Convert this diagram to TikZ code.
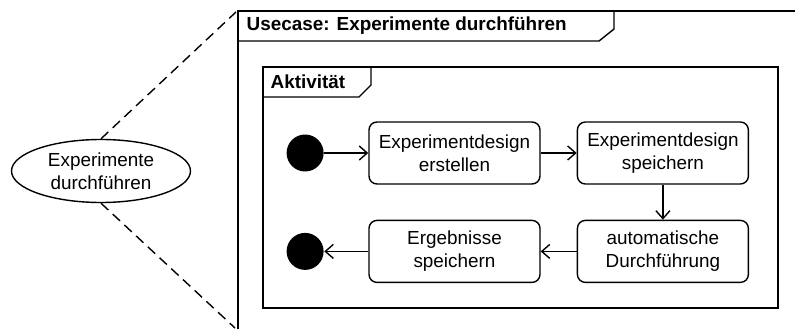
\documentclass[tikz,border=0pt]{standalone}
\usepackage{fontspec}
\setmainfont{Liberation Sans}
\usetikzlibrary{positioning,shapes.geometric,arrows.meta}

\begin{document}
\begin{tikzpicture}[x=1pt, y=-1pt, line width=1.4pt, node distance=36pt,
    every node/.style={font=\fontsize{18.9}{23}\selectfont, align=center},
    action/.style={draw, rounded corners=8pt, minimum width=171pt, minimum height=62pt, inner sep=0pt},
    dot/.style={fill, circle, minimum size=37pt, inner sep=0pt},
    flow/.style={-{Straight Barb[length=8pt,width=14pt]}},
    tab/.style={font=\fontsize{18.9}{23}\selectfont\bfseries, anchor=west, inner sep=0pt}]
    \useasboundingbox (0,0) rectangle (795,329);
    % use case and its dashed link to the frame
    \node (uc) [draw, ellipse, minimum width=179pt, minimum height=63pt, inner sep=0pt] at (101,171) {Experimente\\durchführen};
    \coordinate (ft) at (236,12);
    \coordinate (fb) at (235,328);
    \draw[dash pattern=on 10pt off 6pt] (uc.north) -- (ft);
    \draw[dash pattern=on 10pt off 6pt] (uc.south) -- (fb);
    % outer frame
    \draw (238,329) -- (238,11) -- (795,11);
    \draw (238,41) -- (599,41) -- (614,29) -- (614,11);
    \node (title) [tab] at (246,26) {Usecase: Experimente durchführen};
    % activity frame
    \draw (263,67) rectangle (778,308);
    \draw (263,97) -- (359,97) -- (371,85) -- (371,67);
    \node (act) [tab] at (270,82) {Aktivität};
    % actions
    \node (design) [action] at (454.5,153) {Experimentdesign\\erstellen};
    \node (save) [action, right=of design] {Experimentdesign\\speichern};
    \node (run) [action, below=35pt of save] {automatische\\Durchführung};
    \node (result) [action, left=of run] {Ergebnisse\\speichern};
    \node (start) [dot, left=44pt of design] {};
    \node (stop) [dot, left=44pt of result] {};
    \draw[flow] (start) -- (design);
    \draw[flow] (design) -- (save);
    \draw[flow] (save) -- (run);
    \draw[flow] (run) -- (result);
    \draw[flow] (result) -- (stop);
\end{tikzpicture}
\end{document}
